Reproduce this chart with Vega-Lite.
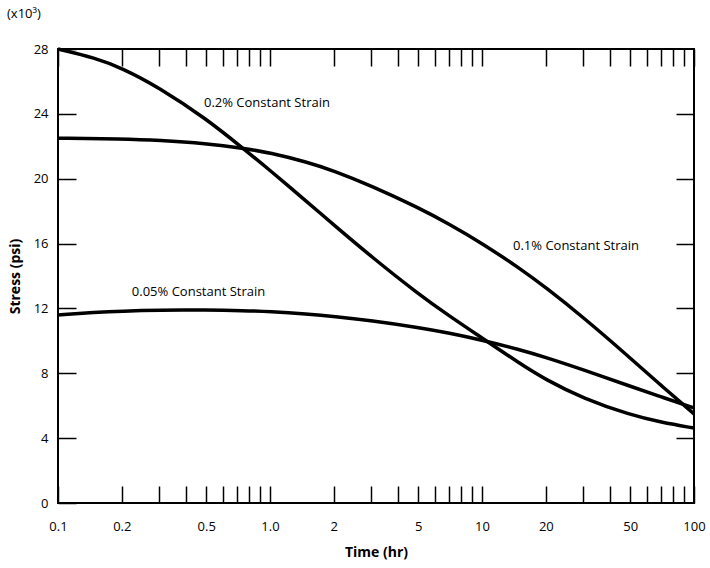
{
  "$schema": "https://vega.github.io/schema/vega-lite/v6.json",
  "width": 636,
  "height": 454,
  "autosize": "none",
  "padding": {"left": 58, "top": 49, "right": 16, "bottom": 65},
  "background": "white",
  "config": {
    "view": {"stroke": "black", "strokeWidth": 2},
    "font": "Open Sans",
    "axis": {"grid": false, "domain": false, "tickColor": "black", "tickWidth": 1.5, "labelColor": "black", "titleColor": "black", "labelFont": "Open Sans", "titleFont": "Open Sans"}
  },
  "title": {"text": "(x10³)", "anchor": "start", "frame": "group", "dx": -51, "offset": 21, "fontSize": 13, "fontWeight": "normal", "font": "Open Sans", "color": "black"},
  "datasets": {
    "curves": [
      {"strain": "0.2%", "time": 0.1, "stress": 28000},
      {"strain": "0.2%", "time": 0.15, "stress": 27450},
      {"strain": "0.2%", "time": 0.2, "stress": 26830},
      {"strain": "0.2%", "time": 0.3, "stress": 25630},
      {"strain": "0.2%", "time": 0.5, "stress": 23700},
      {"strain": "0.2%", "time": 0.75, "stress": 21850},
      {"strain": "0.2%", "time": 1.0, "stress": 20520},
      {"strain": "0.2%", "time": 1.5, "stress": 18560},
      {"strain": "0.2%", "time": 2, "stress": 17150},
      {"strain": "0.2%", "time": 3, "stress": 15200},
      {"strain": "0.2%", "time": 5, "stress": 12900},
      {"strain": "0.2%", "time": 7, "stress": 11540},
      {"strain": "0.2%", "time": 10, "stress": 10180},
      {"strain": "0.2%", "time": 15, "stress": 8620},
      {"strain": "0.2%", "time": 20, "stress": 7600},
      {"strain": "0.2%", "time": 30, "stress": 6450},
      {"strain": "0.2%", "time": 50, "stress": 5430},
      {"strain": "0.2%", "time": 70, "stress": 4980},
      {"strain": "0.2%", "time": 100, "stress": 4620},
      {"strain": "0.1%", "time": 0.1, "stress": 22500},
      {"strain": "0.1%", "time": 0.2, "stress": 22455},
      {"strain": "0.1%", "time": 0.3, "stress": 22370},
      {"strain": "0.1%", "time": 0.5, "stress": 22170},
      {"strain": "0.1%", "time": 0.75, "stress": 21880},
      {"strain": "0.1%", "time": 1.0, "stress": 21600},
      {"strain": "0.1%", "time": 1.5, "stress": 21020},
      {"strain": "0.1%", "time": 2, "stress": 20490},
      {"strain": "0.1%", "time": 3, "stress": 19570},
      {"strain": "0.1%", "time": 5, "stress": 18220},
      {"strain": "0.1%", "time": 7, "stress": 17210},
      {"strain": "0.1%", "time": 10, "stress": 16020},
      {"strain": "0.1%", "time": 15, "stress": 14490},
      {"strain": "0.1%", "time": 20, "stress": 13290},
      {"strain": "0.1%", "time": 30, "stress": 11460},
      {"strain": "0.1%", "time": 50, "stress": 8950},
      {"strain": "0.1%", "time": 70, "stress": 7240},
      {"strain": "0.1%", "time": 100, "stress": 5500},
      {"strain": "0.05%", "time": 0.1, "stress": 11600},
      {"strain": "0.05%", "time": 0.15, "stress": 11758},
      {"strain": "0.05%", "time": 0.2, "stress": 11833},
      {"strain": "0.05%", "time": 0.3, "stress": 11889},
      {"strain": "0.05%", "time": 0.5, "stress": 11907},
      {"strain": "0.05%", "time": 0.75, "stress": 11868},
      {"strain": "0.05%", "time": 1.0, "stress": 11803},
      {"strain": "0.05%", "time": 1.5, "stress": 11653},
      {"strain": "0.05%", "time": 2, "stress": 11509},
      {"strain": "0.05%", "time": 3, "stress": 11245},
      {"strain": "0.05%", "time": 5, "stress": 10823},
      {"strain": "0.05%", "time": 7, "stress": 10480},
      {"strain": "0.05%", "time": 10, "stress": 10046},
      {"strain": "0.05%", "time": 15, "stress": 9465},
      {"strain": "0.05%", "time": 20, "stress": 8980},
      {"strain": "0.05%", "time": 30, "stress": 8222},
      {"strain": "0.05%", "time": 50, "stress": 7201},
      {"strain": "0.05%", "time": 70, "stress": 6544},
      {"strain": "0.05%", "time": 100, "stress": 5862}
    ],
    "labels": [
      {"label": "0.2% Constant Strain", "time": 0.488, "stress": 24700},
      {"label": "0.1% Constant Strain", "time": 14.0, "stress": 15860},
      {"label": "0.05% Constant Strain", "time": 0.223, "stress": 13000}
    ]
  },
  "layer": [
    {
      "data": {"name": "curves"},
      "mark": {"type": "line", "interpolate": "basis", "color": "black", "strokeWidth": 3.5},
      "encoding": {
        "x": {
          "field": "time", "type": "quantitative",
          "scale": {"type": "log", "domain": [0.1, 100], "nice": false},
          "axis": {
            "orient": "bottom", "title": "Time (hr)",
            "values": [0.1, 0.2, 0.3, 0.4, 0.5, 0.6, 0.7, 0.8, 0.9, 1, 2, 3, 4, 5, 6, 7, 8, 9, 10, 20, 30, 40, 50, 60, 70, 80, 90, 100],
            "format": "~g",
            "labelExpr": "indexof([0.1, 0.2, 0.5, 1, 2, 5, 10, 20, 50, 100], datum.value) >= 0 ? (datum.value == 1 ? '1.0' : datum.label) : ''",
            "tickSize": -17, "labelPadding": 34, "labelFontSize": 13,
            "labelOverlap": false, "labelFlush": false, "labelBound": false,
            "titleFontSize": 14, "titleFontWeight": "bold", "titlePadding": 12
          }
        },
        "y": {
          "field": "stress", "type": "quantitative",
          "scale": {"domain": [0, 28000], "nice": false, "zero": true},
          "axis": {
            "orient": "left", "title": "Stress (psi)",
            "values": [0, 4000, 8000, 12000, 16000, 20000, 24000, 28000],
            "labelExpr": "toString(datum.value / 1000)",
            "tickSize": -18, "labelPadding": 28, "labelFontSize": 13,
            "labelOverlap": false, "labelFlush": false,
            "titleFontSize": 14, "titleFontWeight": "bold", "titlePadding": 11
          }
        },
        "detail": {"field": "strain", "type": "nominal"}
      }
    },
    {
      "data": {"name": "labels"},
      "mark": {"type": "text", "align": "left", "baseline": "middle", "fontSize": 13, "font": "Open Sans", "color": "black"},
      "encoding": {
        "x": {
          "field": "time", "type": "quantitative",
          "axis": {
            "orient": "top", "title": null, "labels": false,
            "values": [0.1, 0.2, 0.3, 0.4, 0.5, 0.6, 0.7, 0.8, 0.9, 1, 2, 3, 4, 5, 6, 7, 8, 9, 10, 20, 30, 40, 50, 60, 70, 80, 90, 100],
            "tickSize": -17
          }
        },
        "y": {
          "field": "stress", "type": "quantitative",
          "axis": {
            "orient": "right", "title": null, "labels": false,
            "values": [4000, 8000, 12000, 16000, 20000, 24000],
            "tickSize": -18
          }
        },
        "text": {"field": "label", "type": "nominal"}
      }
    }
  ],
  "resolve": {"axis": {"x": "independent", "y": "independent"}}
}
